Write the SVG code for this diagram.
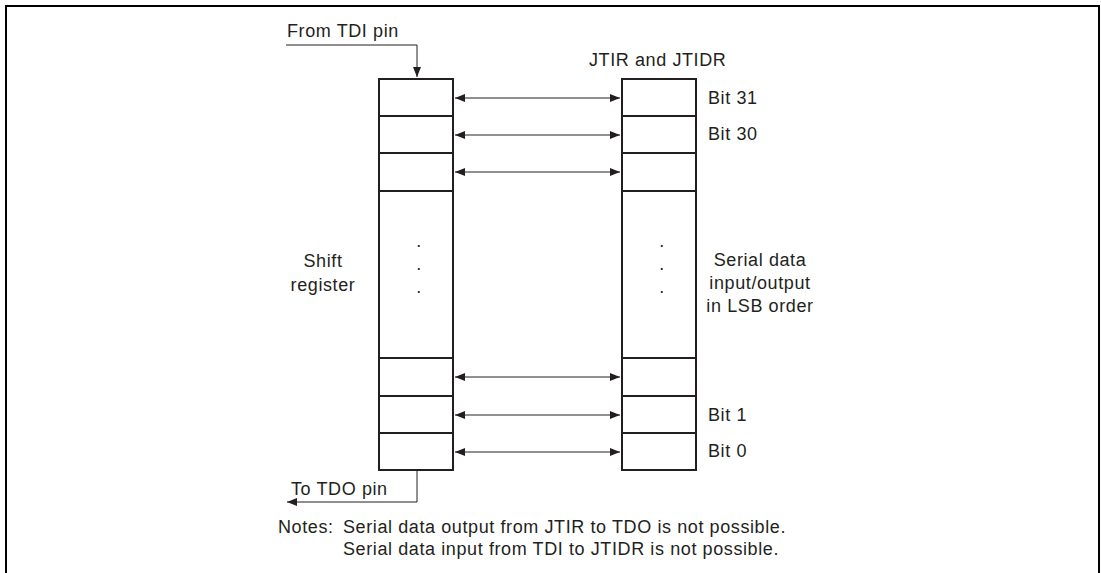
<svg xmlns="http://www.w3.org/2000/svg" width="1101" height="573" viewBox="0 0 1101 573">
<style>
text{font-family:"Liberation Sans",Arial,sans-serif;font-size:18px;letter-spacing:0.6px;fill:#231f20}
.box{fill:#fff;stroke:#231f20;stroke-width:2}
.ln{fill:none;stroke:#231f20;stroke-width:1}
</style>
<defs>
<marker id="ah" markerWidth="10" markerHeight="8" refX="10" refY="4" orient="auto-start-reverse" markerUnits="userSpaceOnUse">
<path d="M0,0 L10,4 L0,8 Z" fill="#231f20"/>
</marker>
</defs>
<rect x="6" y="6" width="1093" height="580" fill="none" stroke="#000" stroke-width="2"/>
<g id="shift-register">
<rect class="box" x="379" y="79" width="74" height="391"/>
<line class="box" x1="379" y1="116" x2="453" y2="116"/>
<line class="box" x1="379" y1="153" x2="453" y2="153"/>
<line class="box" x1="379" y1="191" x2="453" y2="191"/>
<line class="box" x1="379" y1="358" x2="453" y2="358"/>
<line class="box" x1="379" y1="396" x2="453" y2="396"/>
<line class="box" x1="379" y1="433" x2="453" y2="433"/>
<text x="419" y="247" text-anchor="middle">.</text>
<text x="419" y="270" text-anchor="middle">.</text>
<text x="419" y="293" text-anchor="middle">.</text>
<text x="323" y="267" text-anchor="middle">Shift</text>
<text x="323" y="291" text-anchor="middle">register</text>
</g>
<g id="jtir-jtidr">
<rect class="box" x="622" y="79" width="74" height="391"/>
<line class="box" x1="622" y1="116" x2="696" y2="116"/>
<line class="box" x1="622" y1="153" x2="696" y2="153"/>
<line class="box" x1="622" y1="191" x2="696" y2="191"/>
<line class="box" x1="622" y1="358" x2="696" y2="358"/>
<line class="box" x1="622" y1="396" x2="696" y2="396"/>
<line class="box" x1="622" y1="433" x2="696" y2="433"/>
<text x="662" y="247" text-anchor="middle">.</text>
<text x="662" y="270" text-anchor="middle">.</text>
<text x="662" y="293" text-anchor="middle">.</text>
<text x="589" y="66">JTIR and JTIDR</text>
<text x="708" y="104">Bit 31</text>
<text x="708" y="140">Bit 30</text>
<text x="708" y="421">Bit 1</text>
<text x="708" y="457">Bit 0</text>
<text x="760" y="266" text-anchor="middle">Serial data</text>
<text x="760" y="289" text-anchor="middle">input/output</text>
<text x="760" y="312" text-anchor="middle">in LSB order</text>
</g>
<g id="connectors">
<line class="ln" x1="455" y1="98" x2="620" y2="98" marker-start="url(#ah)" marker-end="url(#ah)"/>
<line class="ln" x1="455" y1="135" x2="620" y2="135" marker-start="url(#ah)" marker-end="url(#ah)"/>
<line class="ln" x1="455" y1="172" x2="620" y2="172" marker-start="url(#ah)" marker-end="url(#ah)"/>
<line class="ln" x1="455" y1="377" x2="620" y2="377" marker-start="url(#ah)" marker-end="url(#ah)"/>
<line class="ln" x1="455" y1="415" x2="620" y2="415" marker-start="url(#ah)" marker-end="url(#ah)"/>
<line class="ln" x1="455" y1="452" x2="620" y2="452" marker-start="url(#ah)" marker-end="url(#ah)"/>
<polyline class="ln" points="286,45 417,45 417,77" marker-end="url(#ah)"/>
<polyline class="ln" points="417,471 417,502 287,502" marker-end="url(#ah)"/>
</g>
<g id="labels">
<text x="287" y="37">From TDI pin</text>
<text x="291" y="495">To TDO pin</text>
<text x="278" y="533">Notes:</text>
<text x="343" y="533">Serial data output from JTIR to TDO is not possible.</text>
<text x="343" y="555">Serial data input from TDI to JTIDR is not possible.</text>
</g>
</svg>
